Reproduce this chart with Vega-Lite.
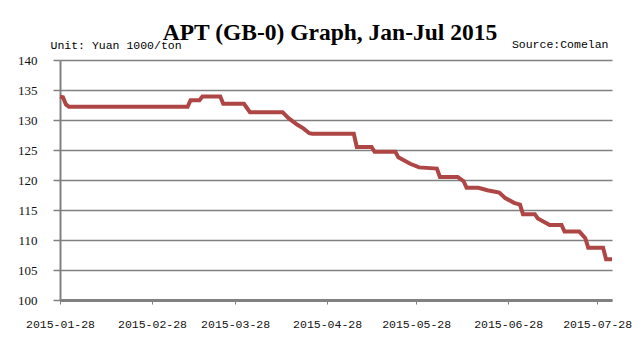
{
  "$schema": "https://vega.github.io/schema/vega-lite/v6.json",
  "width": 552,
  "height": 240,
  "autosize": {"type": "none"},
  "padding": {"left": 60, "top": 60, "right": 32, "bottom": 53},
  "background": "white",
  "title": {
    "text": "APT (GB-0) Graph, Jan-Jul 2015",
    "font": "Liberation Serif",
    "fontSize": 23.5,
    "fontWeight": "bold",
    "color": "#000000",
    "anchor": "middle",
    "dx": -6,
    "offset": -6
  },
  "data": {
    "values": [
      {"date": "2015-01-28", "price": 133.9},
      {"date": "2015-01-29", "price": 133.8},
      {"date": "2015-01-30", "price": 132.6},
      {"date": "2015-01-31", "price": 132.2},
      {"date": "2015-03-12", "price": 132.2},
      {"date": "2015-03-13", "price": 133.3},
      {"date": "2015-03-16", "price": 133.3},
      {"date": "2015-03-17", "price": 133.9},
      {"date": "2015-03-23", "price": 133.9},
      {"date": "2015-03-24", "price": 132.7},
      {"date": "2015-03-31", "price": 132.7},
      {"date": "2015-04-01", "price": 132.0},
      {"date": "2015-04-02", "price": 131.3},
      {"date": "2015-04-13", "price": 131.3},
      {"date": "2015-04-15", "price": 130.3},
      {"date": "2015-04-18", "price": 129.2},
      {"date": "2015-04-20", "price": 128.6},
      {"date": "2015-04-22", "price": 127.8},
      {"date": "2015-04-23", "price": 127.7},
      {"date": "2015-05-07", "price": 127.7},
      {"date": "2015-05-08", "price": 125.5},
      {"date": "2015-05-13", "price": 125.5},
      {"date": "2015-05-14", "price": 124.7},
      {"date": "2015-05-21", "price": 124.7},
      {"date": "2015-05-22", "price": 123.8},
      {"date": "2015-05-26", "price": 122.7},
      {"date": "2015-05-29", "price": 122.1},
      {"date": "2015-06-04", "price": 121.9},
      {"date": "2015-06-05", "price": 120.5},
      {"date": "2015-06-11", "price": 120.5},
      {"date": "2015-06-13", "price": 119.8},
      {"date": "2015-06-14", "price": 118.7},
      {"date": "2015-06-18", "price": 118.7},
      {"date": "2015-06-21", "price": 118.3},
      {"date": "2015-06-25", "price": 117.9},
      {"date": "2015-06-27", "price": 117.0},
      {"date": "2015-06-30", "price": 116.2},
      {"date": "2015-07-02", "price": 115.9},
      {"date": "2015-07-03", "price": 114.3},
      {"date": "2015-07-07", "price": 114.3},
      {"date": "2015-07-08", "price": 113.6},
      {"date": "2015-07-12", "price": 112.5},
      {"date": "2015-07-16", "price": 112.5},
      {"date": "2015-07-17", "price": 111.4},
      {"date": "2015-07-22", "price": 111.4},
      {"date": "2015-07-24", "price": 110.3},
      {"date": "2015-07-25", "price": 108.7},
      {"date": "2015-07-30", "price": 108.7},
      {"date": "2015-07-31", "price": 106.8},
      {"date": "2015-08-02", "price": 106.8}
    ]
  },
  "mark": {"type": "line", "color": "#AE4646", "strokeWidth": 4},
  "encoding": {
    "x": {
      "field": "date",
      "type": "temporal",
      "scale": {
        "type": "utc",
        "domain": [
          {"year": 2015, "month": 1, "date": 28, "utc": true},
          {"year": 2015, "month": 8, "date": 2, "utc": true}
        ]
      },
      "axis": {
        "title": "Source:Comelan",
        "titleFont": "Liberation Mono",
        "titleFontSize": 11.5,
        "titleFontWeight": "normal",
        "titleColor": "#000000",
        "titleAngle": 0,
        "titleAlign": "right",
        "titleBaseline": "alphabetic",
        "titleX": 548,
        "titleY": -253,
        "values": [
          {"year": 2015, "month": 1, "date": 28, "utc": true},
          {"year": 2015, "month": 2, "date": 28, "utc": true},
          {"year": 2015, "month": 3, "date": 28, "utc": true},
          {"year": 2015, "month": 4, "date": 28, "utc": true},
          {"year": 2015, "month": 5, "date": 28, "utc": true},
          {"year": 2015, "month": 6, "date": 28, "utc": true},
          {"year": 2015, "month": 7, "date": 28, "utc": true}
        ],
        "format": "%Y-%m-%d",
        "labelFont": "Liberation Mono",
        "labelFontSize": 11.5,
        "labelColor": "#111111",
        "labelFlush": false,
        "labelOverlap": false,
        "labelPadding": 14,
        "labelAngle": 0,
        "grid": false,
        "domainColor": "#808080",
        "domainWidth": 3,
        "tickColor": "#808080",
        "tickSize": 4,
        "tickWidth": 1
      }
    },
    "y": {
      "field": "price",
      "type": "quantitative",
      "scale": {"domain": [100, 140], "nice": false, "zero": false},
      "axis": {
        "title": "Unit: Yuan 1000/ton",
        "titleFont": "Liberation Mono",
        "titleFontSize": 11.5,
        "titleFontWeight": "normal",
        "titleColor": "#000000",
        "titleAngle": 0,
        "titleAlign": "left",
        "titleBaseline": "alphabetic",
        "titleX": -10,
        "titleY": -12,
        "values": [100, 105, 110, 115, 120, 125, 130, 135, 140],
        "labelFont": "Liberation Serif",
        "labelFontSize": 13,
        "labelColor": "#111111",
        "labelPadding": 16,
        "grid": true,
        "gridColor": "#808080",
        "gridWidth": 1.5,
        "domainColor": "#808080",
        "domainWidth": 2,
        "tickColor": "#808080",
        "tickSize": 7,
        "tickWidth": 1.5
      }
    }
  },
  "config": {"view": {"stroke": null}}
}
